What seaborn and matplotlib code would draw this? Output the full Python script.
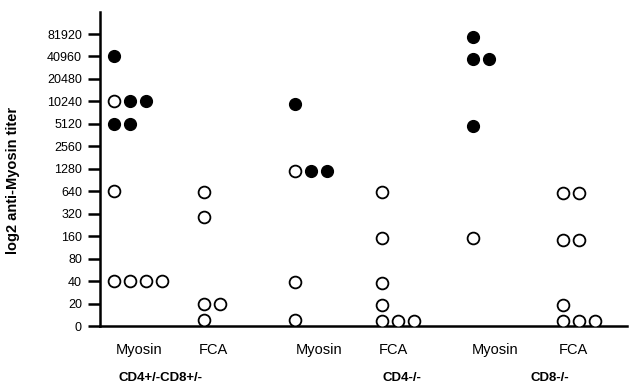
import numpy as np
import pandas as pd
import matplotlib
matplotlib.use("Agg")
import matplotlib.pyplot as plt
import matplotlib.transforms as mtransforms
import seaborn as sns

# titers, in log2 tick steps (0 -> "0", 1 -> 20, ..., 13 -> 81920)
tick_labels = ["0", "20", "40", "80", "160", "320", "640", "1280", "2560",
               "5120", "10240", "20480", "40960", "81920"]

groups = ["CD4+/-CD8+/-", "CD4-/-", "CD8-/-"]
antigens = ["Myosin", "FCA"]

# one list per group/antigen column: (level, filled) in left-to-right order within a row
cd48_myosin_level = [12, 10, 10, 10, 9, 9, 6, 2, 2, 2, 2]
cd48_myosin_filled = [1, 0, 1, 1, 1, 1, 0, 0, 0, 0, 0]
cd48_fca_level = [5.95, 4.85, 1.0, 1.0, 0.27]
cd48_fca_filled = [0, 0, 0, 0, 0]

cd4_myosin_level = [9.9, 6.9, 6.9, 6.9, 1.95, 0.27]
cd4_myosin_filled = [1, 0, 1, 1, 0, 0]
cd4_fca_level = [5.97, 3.9, 1.9, 0.93, 0.22, 0.22, 0.22]
cd4_fca_filled = [0, 0, 0, 0, 0, 0, 0]

cd8_myosin_level = [12.87, 11.9, 11.9, 8.9, 3.9]
cd8_myosin_filled = [1, 1, 1, 1, 0]
cd8_fca_level = [5.9, 5.9, 3.85, 3.85, 0.93, 0.22, 0.22, 0.22]
cd8_fca_filled = [0, 0, 0, 0, 0, 0, 0, 0]

columns = [
    ("CD4+/-CD8+/-", "Myosin", cd48_myosin_level, cd48_myosin_filled),
    ("CD4+/-CD8+/-", "FCA", cd48_fca_level, cd48_fca_filled),
    ("CD4-/-", "Myosin", cd4_myosin_level, cd4_myosin_filled),
    ("CD4-/-", "FCA", cd4_fca_level, cd4_fca_filled),
    ("CD8-/-", "Myosin", cd8_myosin_level, cd8_myosin_filled),
    ("CD8-/-", "FCA", cd8_fca_level, cd8_fca_filled),
]

# layout (x in axis units, roughly pixels from the y axis)
first_dot_x = [14, 104, 195, 282, 373, 463]
label_x = [39, 113, 219, 294, 395, 474]
group_x = [61, 302, 450]
dot_step = 16

rows = []
for i, (g, a, lv, fl) in enumerate(columns):
    for level, filled in zip(lv, fl):
        rows.append({"slot": i, "group": g, "antigen": a, "level": level, "filled": filled})
df = pd.DataFrame(rows)
df["rank"] = df.groupby(["slot", "level"]).cumcount()
df["x"] = [first_dot_x[s] for s in df["slot"]] + df["rank"] * dot_step

sns.set_style("ticks")
plt.rcParams["font.family"] = ["Liberation Sans", "DejaVu Sans"]
plt.rcParams["text.color"] = "black"
plt.rcParams["xtick.color"] = "black"
plt.rcParams["ytick.color"] = "black"
plt.rcParams["axes.labelcolor"] = "black"

fig = plt.figure(figsize=(6.35, 3.86), dpi=100)
ax = fig.add_axes([0.1575, 0.1554, 0.8295, 0.8135])

sns.scatterplot(data=df[df["filled"] == 1], x="x", y="level", ax=ax,
                s=72, color="black", edgecolor="black", linewidth=1.0, zorder=3)
sns.scatterplot(data=df[df["filled"] == 0], x="x", y="level", ax=ax,
                s=72, facecolor="white", edgecolor="black", linewidth=1.3, zorder=3)

ax.set_xlim(0, 527)
ax.set_ylim(0, 13.98)
ax.set_yticks(range(len(tick_labels)))
ax.set_yticklabels(tick_labels, fontsize=9)
ax.set_xticks(label_x)
ax.set_xticklabels([c[1] for c in columns], fontsize=10.5)

ax.tick_params(axis="y", length=9, width=1.8, pad=4, color="black", labelcolor="black")
ax.tick_params(axis="x", length=0, pad=12, labelcolor="black")
sns.despine(ax=ax)
for side in ["left", "bottom"]:
    ax.spines[side].set_linewidth(1.8)
    ax.spines[side].set_color("black")

ax.set_xlabel("")
ax.set_ylabel("log2 anti-Myosin titer", fontsize=10.5, fontweight="bold", color="black")
ax.yaxis.set_label_coords(-0.152, 0.465)

trans = mtransforms.blended_transform_factory(ax.transData, ax.transAxes)
for gx, g in zip(group_x, groups):
    ax.text(gx, -0.166, g, transform=trans, ha="center", va="center",
            fontsize=9.5, fontweight="bold", color="black")

fig.savefig("out.png", dpi=100)
